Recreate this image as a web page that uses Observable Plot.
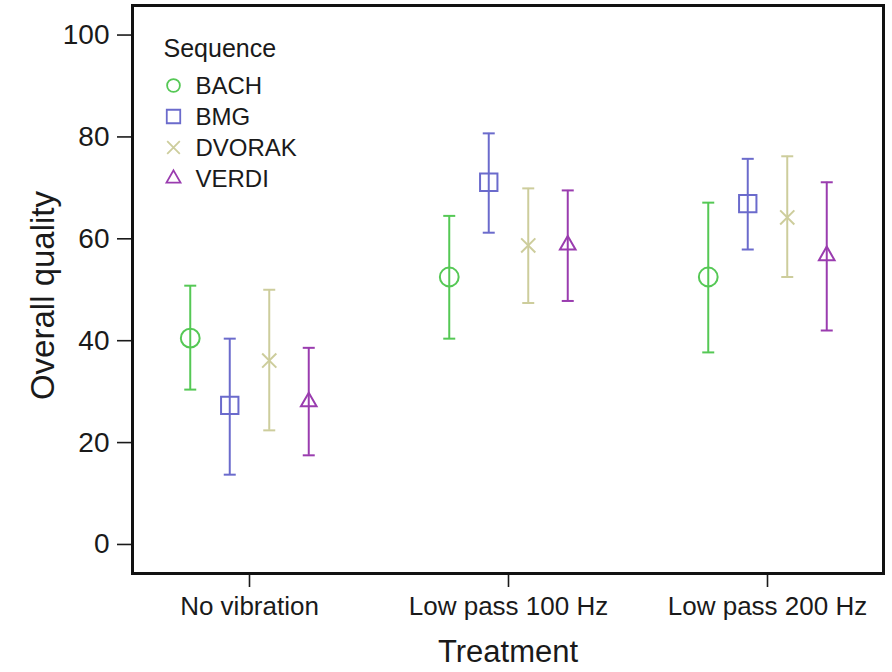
<!DOCTYPE html>
<html>
<head>
<meta charset="utf-8">
<script src="https://cdn.jsdelivr.net/npm/d3@7"></script>
<script src="https://cdn.jsdelivr.net/npm/@observablehq/plot@0.6"></script>
<style>
  html, body { margin: 0; padding: 0; background: #fff; }
  #chart { width: 892px; height: 672px; }
</style>
</head>
<body>
<div id="chart"></div>
<script>
// ---- data ----
const treatments = ["No vibration", "Low pass 100 Hz", "Low pass 200 Hz"];
const series = ["BACH", "BMG", "DVORAK", "VERDI"];
// mean per series (rows) x treatment (cols)
const means = [
  [40.5, 52.5, 52.5],   // BACH
  [27.3, 71.1, 66.9],   // BMG
  [36.1, 58.7, 64.2],   // DVORAK
  [28.0, 58.8, 56.7]    // VERDI
];
const lowers = [
  [30.4, 40.4, 37.7],
  [13.7, 61.2, 57.9],
  [22.4, 47.4, 52.5],
  [17.5, 47.8, 42.0]
];
const uppers = [
  [50.8, 64.5, 67.1],
  [40.4, 80.7, 75.7],
  [50.0, 69.9, 76.2],
  [38.6, 69.5, 71.1]
];
const yTicks = [0, 20, 40, 60, 80, 100];

// ---- styles ----
const colors = ["#55c855", "#6b6bcc", "#cdcd9c", "#9a3caf"];
const symbols = ["circle", "square", "times", "triangle"];
const dotR = [9.4, 9.8, 6.5, 5.8];
const legendR = [6.4, 7.6, 5.8, 5.2];

const rows = [];
series.forEach((s, i) => treatments.forEach((t, j) => {
  rows.push({series: s, treatment: t, mean: means[i][j], lo: lowers[i][j], hi: uppers[i][j]});
}));

const cap = {draw(ctx) { ctx.moveTo(-6, 0); ctx.lineTo(6, 0); }};
const step = 39.5;

const marks = [];
series.forEach((s, i) => {
  const d = rows.filter(r => r.series === s);
  const dx = (i - 1.5) * step;
  marks.push(
    Plot.ruleX(d, {x: "treatment", y1: "lo", y2: "hi", stroke: "series", strokeWidth: 2, dx}),
    Plot.dot(d, {x: "treatment", y: "hi", symbol: cap, stroke: "series", strokeWidth: 2, fill: "none", dx}),
    Plot.dot(d, {x: "treatment", y: "lo", symbol: cap, stroke: "series", strokeWidth: 2, fill: "none", dx}),
    Plot.dot(d, {x: "treatment", y: "mean", symbol: "series", stroke: "series", r: dotR[i], strokeWidth: 2, fill: "none", dx}),
    // legend
    Plot.dot([s], {frameAnchor: "top-left", dx: 41, dy: 80 + i * 31, symbol: d => d, stroke: d => d, r: legendR[i], strokeWidth: 1.8, fill: "none"}),
    Plot.text([s], {frameAnchor: "top-left", dx: 63, dy: 81 + i * 31, text: d => d, textAnchor: "start", lineAnchor: "middle", fontSize: 24, fill: "#1a1a1a"})
  );
});

const chart = Plot.plot({
  width: 892,
  height: 672,
  marginLeft: 132,
  marginRight: 9,
  marginTop: 5,
  marginBottom: 99,
  style: {fontFamily: "'Liberation Sans', Arial, sans-serif", color: "#1a1a1a", background: "#fff"},
  x: {type: "point", domain: treatments, padding: 0.4476},
  y: {domain: [-5.7, 105.8]},
  color: {domain: series, range: colors},
  symbol: {domain: series, range: symbols},
  marks: [
    Plot.axisY({ticks: yTicks, tickSize: 15, tickPadding: 8, fontSize: 28, label: null, strokeWidth: 1.6}),
    Plot.axisX({tickSize: 14, tickPadding: 9, fontSize: 26, label: null, strokeWidth: 1.6}),
    ...marks,
    Plot.text(["Sequence"], {frameAnchor: "top-left", dx: 31, dy: 43, text: d => d, textAnchor: "start", lineAnchor: "middle", fontSize: 25, fill: "#1a1a1a"}),
    Plot.text(["Overall quality"], {frameAnchor: "left", rotate: -90, dx: -89, dy: 6, text: d => d, textAnchor: "middle", lineAnchor: "middle", fontSize: 33, fill: "#1a1a1a"}),
    Plot.text(["Treatment"], {frameAnchor: "bottom", dy: 79, text: d => d, textAnchor: "middle", lineAnchor: "middle", fontSize: 31, fill: "#1a1a1a"}),
    Plot.frame({stroke: "#111", strokeWidth: 3})
  ]
});
document.getElementById("chart").appendChild(chart);
</script>
</body>
</html>
